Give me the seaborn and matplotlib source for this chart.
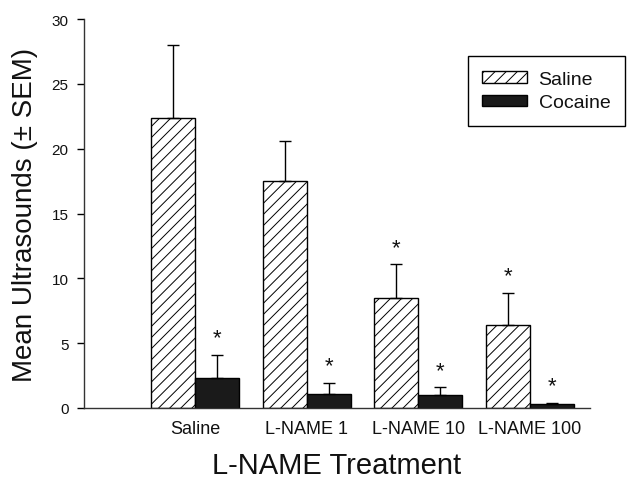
import seaborn as sns
import matplotlib.pyplot as plt
import pandas as pd

# values
treatments = ['Saline', 'L-NAME 1', 'L-NAME 10', 'L-NAME 100']
saline_mean = [22.4, 17.5, 8.5, 6.4]
saline_sem = [5.6, 3.1, 2.6, 2.5]
cocaine_mean = [2.3, 1.1, 1.0, 0.3]
cocaine_sem = [1.8, 0.85, 0.6, 0.1]
saline_sig = [False, False, True, True]
cocaine_sig = [True, True, True, True]

df = pd.DataFrame({
    'Treatment': treatments * 2,
    'Group': ['Saline'] * 4 + ['Cocaine'] * 4,
    'Mean': saline_mean + cocaine_mean,
})

sns.set_style('ticks')
plt.rcParams['font.family'] = ['Liberation Sans', 'DejaVu Sans']
plt.rcParams['hatch.linewidth'] = 0.7
for k in ['text.color', 'axes.labelcolor', 'xtick.color', 'ytick.color']:
    plt.rcParams[k] = '#111111'

fig = plt.figure(figsize=(6.33, 4.81), dpi=100)
ax = fig.add_axes([0.1327, 0.1497, 0.7993, 0.8087])

sns.barplot(data=df, x='Treatment', y='Mean', hue='Group', order=treatments,
            palette=['white', '#1a1a1a'], edgecolor='black', linewidth=1,
            width=0.79, errorbar=None, ax=ax)

# hatch saline bars, add one-sided SEM bars and asterisks
for cont, means, sems, sig in [(ax.containers[0], saline_mean, saline_sem, saline_sig),
                               (ax.containers[1], cocaine_mean, cocaine_sem, cocaine_sig)]:
    for bar, m, s, star in zip(cont, means, sems, sig):
        xc = bar.get_x() + bar.get_width() / 2
        ax.errorbar(xc, m, yerr=[[0], [s]], fmt='none', ecolor='black',
                    elinewidth=1, capsize=4.3, capthick=1)
        if star:
            ax.annotate('*', (xc, m + s), xytext=(0, 4.5), textcoords='offset points',
                        ha='center', va='bottom', fontsize=16)
for bar in ax.containers[0]:
    bar.set_hatch('///')

handles, labels = ax.get_legend_handles_labels()
handles[0].set_hatch('///')
handles[0].set_facecolor('white')
handles[0].set_edgecolor('black')
leg = ax.legend(handles, labels, loc='upper right', bbox_to_anchor=(1.069, 0.905),
                fontsize=14, frameon=True, fancybox=False, framealpha=1,
                handlelength=2.3, handleheight=0.55, handletextpad=0.6,
                borderpad=0.75, labelspacing=0.35, borderaxespad=0)
leg.get_frame().set_edgecolor('black')
leg.get_frame().set_linewidth(1)

ax.set_ylim(0, 30)
ax.set_xlim(-1.0, 3.54)
ax.set_yticks([0, 5, 10, 15, 20, 25, 30])
ax.tick_params(axis='y', labelsize=11, length=5, width=1, pad=6, color='black')
ax.tick_params(axis='x', labelsize=13, length=0, pad=9)
ax.set_ylabel('Mean Ultrasounds (± SEM)', fontsize=20, labelpad=10)
ax.set_xlabel('L-NAME Treatment', fontsize=21, labelpad=10)
sns.despine(ax=ax)
for sp in ['left', 'bottom']:
    ax.spines[sp].set_color('#333333')
    ax.spines[sp].set_linewidth(1)

plt.savefig('out.png', dpi=100)
